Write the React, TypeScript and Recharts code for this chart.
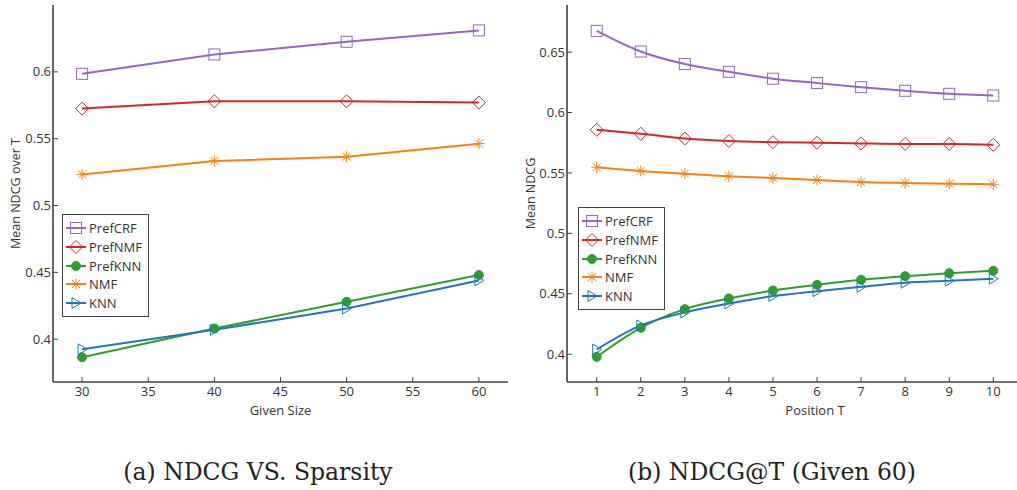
import { LineChart, Line, XAxis, YAxis, Legend } from 'recharts';

// (a) NDCG vs. sparsity
const givenSizes = [30, 40, 50, 60];
const sparsityPrefCRF = [0.5985, 0.613, 0.6225, 0.631];
const sparsityPrefNMF = [0.5725, 0.578, 0.578, 0.577];
const sparsityPrefKNN = [0.3865, 0.408, 0.428, 0.448];
const sparsityNMF = [0.5233, 0.5333, 0.5365, 0.5463];
const sparsityKNN = [0.3925, 0.407, 0.423, 0.444];

// (b) NDCG@T, given 60
const positions = [1, 2, 3, 4, 5, 6, 7, 8, 9, 10];
const atPrefCRF = [0.6676, 0.6505, 0.6401, 0.6337, 0.628, 0.6244, 0.621, 0.618, 0.6155, 0.6141];
const atPrefNMF = [0.5857, 0.5824, 0.5785, 0.5764, 0.5755, 0.575, 0.5744, 0.574, 0.574, 0.5733];
const atPrefKNN = [0.3978, 0.4218, 0.4373, 0.4461, 0.4527, 0.4574, 0.4616, 0.4646, 0.467, 0.469];
const atNMF = [0.5547, 0.5517, 0.5494, 0.5472, 0.5459, 0.5442, 0.5425, 0.5417, 0.5411, 0.5406];
const atKNN = [0.4039, 0.4238, 0.4346, 0.442, 0.4481, 0.4522, 0.4558, 0.4591, 0.4608, 0.4625];

const givenTicks = [30, 35, 40, 45, 50, 55, 60];
const sparsityYTicks = [0.4, 0.45, 0.5, 0.55, 0.6];
const atYTicks = [0.4, 0.45, 0.5, 0.55, 0.6, 0.65];

const methods = [
  { key: 'PrefCRF', color: '#9467bd', shape: 'square' },
  { key: 'PrefNMF', color: '#d62728', shape: 'diamond' },
  { key: 'PrefKNN', color: '#2ca02c', shape: 'circle' },
  { key: 'NMF', color: '#ff7f0e', shape: 'star' },
  { key: 'KNN', color: '#1f77b4', shape: 'triangle' },
];

const sparsityData = givenSizes.map((g, i) => ({
  x: g,
  PrefCRF: sparsityPrefCRF[i],
  PrefNMF: sparsityPrefNMF[i],
  PrefKNN: sparsityPrefKNN[i],
  NMF: sparsityNMF[i],
  KNN: sparsityKNN[i],
}));

const atData = positions.map((p, i) => ({
  x: p,
  PrefCRF: atPrefCRF[i],
  PrefNMF: atPrefNMF[i],
  PrefKNN: atPrefKNN[i],
  NMF: atNMF[i],
  KNN: atKNN[i],
}));

const FONT = '"Open Sans", sans-serif';
const AXIS = '#404040';
const TEXT = '#333';

function Marker({ shape, cx, cy, color }: any) {
  if (cx == null || cy == null) return null;
  switch (shape) {
    case 'square':
      return <rect x={cx - 5.5} y={cy - 5.5} width={11} height={11} fill="none" stroke={color} strokeWidth={1} />;
    case 'diamond':
      return (
        <polygon
          points={`${cx},${cy - 6.5} ${cx + 6.5},${cy} ${cx},${cy + 6.5} ${cx - 6.5},${cy}`}
          fill="none"
          stroke={color}
          strokeWidth={1}
        />
      );
    case 'circle':
      return <circle cx={cx} cy={cy} r={4.5} fill={color} stroke={color} />;
    case 'star':
      return (
        <path
          d={`M${cx - 5.5},${cy}H${cx + 5.5}M${cx},${cy - 5.5}V${cy + 5.5}M${cx - 4},${cy - 4}L${cx + 4},${cy + 4}M${cx - 4},${cy + 4}L${cx + 4},${cy - 4}`}
          stroke={color}
          strokeWidth={1}
          fill="none"
        />
      );
    default:
      return (
        <polygon
          points={`${cx - 4},${cy - 5.5} ${cx + 5},${cy} ${cx - 4},${cy + 5.5}`}
          fill="none"
          stroke={color}
          strokeWidth={1}
        />
      );
  }
}

function MethodLegend() {
  return (
    <div
      style={{
        border: `1px solid ${AXIS}`,
        background: '#fff',
        padding: '4px 6px 4px 2px',
        fontFamily: FONT,
        fontSize: 13,
        color: TEXT,
      }}
    >
      {methods.map((m) => (
        <div key={m.key} style={{ display: 'flex', alignItems: 'center', height: 18.7 }}>
          <svg width={22} height={16} style={{ marginRight: 2 }}>
            <line x1={1} y1={8} x2={21} y2={8} stroke={m.color} strokeWidth={2} />
            <Marker shape={m.shape} cx={11} cy={8} color={m.color} />
          </svg>
          <span>{m.key}</span>
        </div>
      ))}
    </div>
  );
}

interface PanelProps {
  data: any[];
  width: number;
  yAxisWidth: number;
  xDomain: [number, number];
  xTicks: number[];
  yDomain: [number, number];
  yTicks: number[];
  xLabel: string;
  yLabel: string;
  yLabelOffset: number;
  curve: 'linear' | 'monotone';
  legendLeft: number;
  legendTop: number;
}

function Panel(p: PanelProps) {
  const tickStyle = { fill: TEXT, fontSize: 13, fontFamily: FONT };
  return (
    <LineChart width={p.width} height={430} data={p.data} margin={{ top: 5, right: 7, bottom: 12, left: 0 }}>
      <XAxis
        dataKey="x"
        type="number"
        domain={p.xDomain}
        ticks={p.xTicks}
        allowDataOverflow
        height={36}
        stroke={AXIS}
        axisLine={{ stroke: AXIS, strokeWidth: 1.6 }}
        tickLine={{ stroke: AXIS }}
        tickSize={-5}
        tickMargin={10}
        tick={tickStyle}
        label={{
          value: p.xLabel,
          position: 'insideBottom',
          offset: 3,
          style: { fill: TEXT, fontSize: 13, fontFamily: FONT },
        }}
      />
      <XAxis xAxisId="top" orientation="top" dataKey="x" type="number" domain={p.xDomain} height={0} tick={false} tickLine={false} axisLine={{ stroke: AXIS, strokeWidth: 1.6 }} />
      <YAxis
        type="number"
        domain={p.yDomain}
        ticks={p.yTicks}
        allowDataOverflow
        width={p.yAxisWidth}
        axisLine={{ stroke: AXIS, strokeWidth: 1.6 }}
        tickLine={{ stroke: AXIS }}
        tickSize={-5}
        tickMargin={7}
        tick={tickStyle}
        tickFormatter={(v: number) => String(v)}
        label={{
          value: p.yLabel,
          angle: -90,
          position: 'insideLeft',
          offset: p.yLabelOffset,
          style: { textAnchor: 'middle', fill: TEXT, fontSize: 12.5, fontFamily: FONT },
        }}
      />
      <YAxis yAxisId="right" orientation="right" domain={p.yDomain} width={0} tick={false} tickLine={false} axisLine={{ stroke: AXIS, strokeWidth: 1.6 }} />
      {methods.map((m) => (
        <Line
          key={m.key}
          type={p.curve}
          dataKey={m.key}
          stroke={m.color}
          strokeWidth={2}
          isAnimationActive={false}
          dot={(props: any) => <Marker key={`${m.key}-${props.index}`} shape={m.shape} cx={props.cx} cy={props.cy} color={m.color} />}
          activeDot={false}
        />
      ))}
      <Legend
        layout="horizontal"
        verticalAlign="middle"
        align="center"
        wrapperStyle={{ left: p.legendLeft, top: p.legendTop, width: 'auto' }}
        content={() => <MethodLegend />}
      />
    </LineChart>
  );
}

const captionStyle: React.CSSProperties = {
  position: 'absolute',
  top: 458,
  width: 400,
  textAlign: 'center',
  fontFamily: '"DejaVu Serif", serif',
  fontSize: 23.5,
  lineHeight: '28px',
  color: '#222',
};

export default function App() {
  return (
    <div style={{ position: 'absolute', left: 0, top: 0, width: 1017, height: 490, overflow: 'hidden', background: '#fff' }}>
      <div style={{ position: 'absolute', left: 0, top: 0 }}>
        <Panel
          data={sparsityData}
          width={515}
          yAxisWidth={53}
          xDomain={[27.8, 62.2]}
          xTicks={givenTicks}
          yDomain={[0.368, 0.65]}
          yTicks={sparsityYTicks}
          xLabel="Given Size"
          yLabel="Mean NDCG over T"
          yLabelOffset={16}
          curve="linear"
          legendLeft={62}
          legendTop={214}
        />
      </div>
      <div style={{ position: 'absolute', left: 510, top: 0 }}>
        <Panel
          data={atData}
          width={560}
          yAxisWidth={57}
          xDomain={[0.326, 11.582]}
          xTicks={positions}
          yDomain={[0.377, 0.689]}
          yTicks={atYTicks}
          xLabel="Position T"
          yLabel="Mean NDCG"
          yLabelOffset={21}
          curve="monotone"
          legendLeft={68}
          legendTop={207}
        />
      </div>
      <div style={{ ...captionStyle, left: 58 }}>(a) NDCG VS. Sparsity</div>
      <div style={{ ...captionStyle, left: 572 }}>(b) NDCG@T (Given 60)</div>
    </div>
  );
}
